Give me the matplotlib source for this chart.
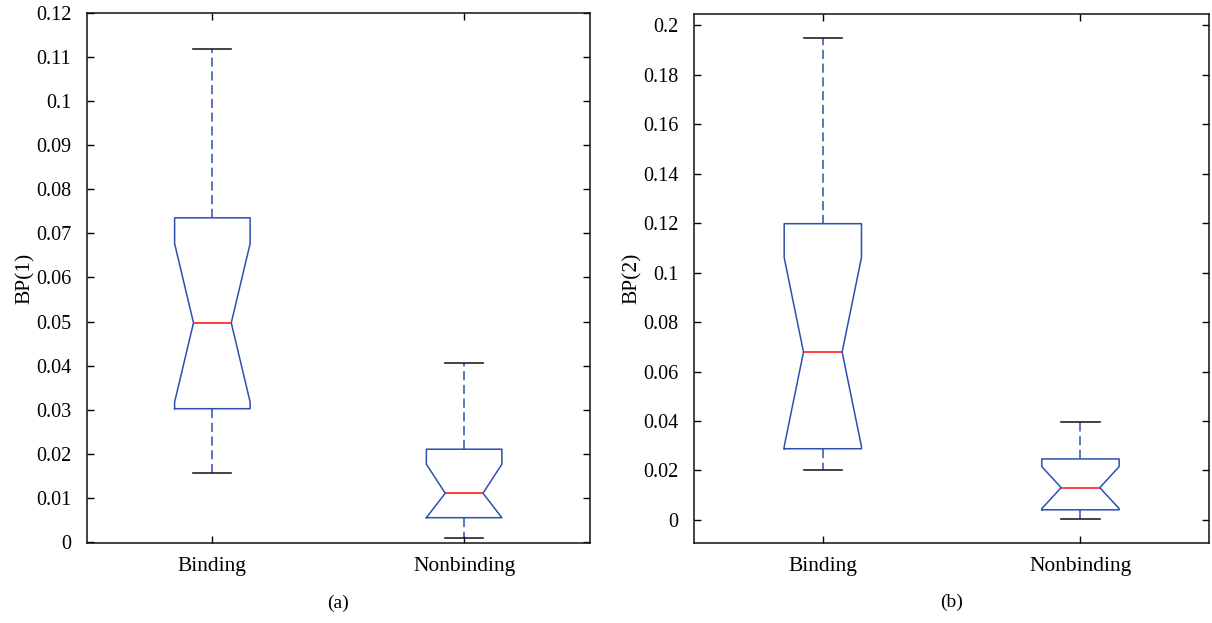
import matplotlib
matplotlib.use("Agg")
import matplotlib.pyplot as plt

categories = ["Binding", "Nonbinding"]

# Panel (a): BP(1)
a_whislo = [0.0157, 0.0009]
a_q1 = [0.0302, 0.00545]
a_cilo = [0.0317, 0.00545]
a_med = [0.0497, 0.0110]
a_cihi = [0.0677, 0.0176]
a_q3 = [0.07355, 0.0210]
a_whishi = [0.1119, 0.0405]

# Panel (b): BP(2)
b_whislo = [0.0202, 0.0004]
b_q1 = [0.0288, 0.0041]
b_cilo = [0.0297, 0.0046]
b_med = [0.0679, 0.01306]
b_cihi = [0.1061, 0.02155]
b_q3 = [0.1198, 0.02467]
b_whishi = [0.1950, 0.0396]

a_yticks = [0, 0.01, 0.02, 0.03, 0.04, 0.05, 0.06, 0.07, 0.08, 0.09, 0.1, 0.11, 0.12]
a_yticklabels = ["0", "0.01", "0.02", "0.03", "0.04", "0.05", "0.06", "0.07",
                 "0.08", "0.09", "0.1", "0.11", "0.12"]
b_yticks = [0, 0.02, 0.04, 0.06, 0.08, 0.1, 0.12, 0.14, 0.16, 0.18, 0.2]
b_yticklabels = ["0", "0.02", "0.04", "0.06", "0.08", "0.1", "0.12", "0.14",
                 "0.16", "0.18", "0.2"]

plt.rcParams['font.family'] = ['Liberation Serif', 'DejaVu Serif']
FS = 14.5
FSX = 15.5

BLUE = "#2e4fb0"
RED = "#ff1a1a"

fig = plt.figure(figsize=(12.12, 6.23), dpi=100)


def make_stats(whislo, q1, cilo, med, cihi, q3, whishi):
    stats = []
    for i in range(len(categories)):
        stats.append(dict(label=categories[i], whislo=whislo[i], q1=q1[i], cilo=cilo[i],
                          med=med[i], cihi=cihi[i], q3=q3[i], whishi=whishi[i], fliers=[]))
    return stats


def draw(ax, stats, ylim, yticks, yticklabels, ylabel, caption):
    ax.bxp(stats, positions=[1, 2], widths=0.3, shownotches=True, showfliers=False,
           boxprops=dict(color=BLUE, linewidth=1.1),
           whiskerprops=dict(color=BLUE, linewidth=1.1, linestyle=(0, (6, 3))),
           capprops=dict(color="#222222", linewidth=1.2),
           medianprops=dict(color=RED, linewidth=1.2))
    ax.set_xlim(0.5, 2.5)
    ax.set_ylim(*ylim)
    ax.set_yticks(yticks)
    ax.set_yticklabels(yticklabels)
    ax.set_xticks([1, 2])
    ax.set_xticklabels(categories)
    ax.tick_params(direction='in', length=5, width=1.0, top=True, right=True)
    ax.tick_params(axis='y', labelsize=FS, pad=11)
    ax.tick_params(axis='x', labelsize=FSX, pad=10)
    for s in ax.spines.values():
        s.set_linewidth(1.1)
        s.set_color("#111111")
    ax.set_ylabel(ylabel, fontsize=FSX, labelpad=1)
    ax.text(0.5, -0.113, caption, transform=ax.transAxes, ha='center', va='center',
            fontsize=FS - 0.5)


ax1 = fig.add_axes([86.5 / 1212, 1 - 543 / 623, (590 - 86.5) / 1212, (543 - 13.3) / 623])
draw(ax1, make_stats(a_whislo, a_q1, a_cilo, a_med, a_cihi, a_q3, a_whishi),
     (-0.0003, 0.12), a_yticks, a_yticklabels, "BP(1)", "(a)")

ax2 = fig.add_axes([694 / 1212, 1 - 542.7 / 623, (1209.3 - 694) / 1212, (542.7 - 14) / 623])
draw(ax2, make_stats(b_whislo, b_q1, b_cilo, b_med, b_cihi, b_q3, b_whishi),
     (-0.0092, 0.2046), b_yticks, b_yticklabels, "BP(2)", "(b)")

fig.savefig("out.png", dpi=100)
